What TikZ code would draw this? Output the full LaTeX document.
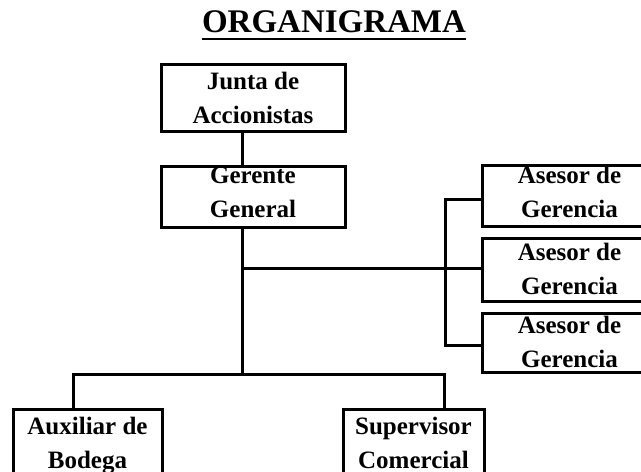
\documentclass[tikz,border=0pt]{standalone}
\usepackage{fontspec}
\setmainfont{Liberation Serif}
\newcommand\lowstrut[1]{\rule[-#1pt]{0pt}{#1pt}}
\begin{document}
\begin{tikzpicture}[x=1pt,y=-1pt,
  box/.style={draw, line width=3pt, inner sep=0pt, align=center,
    font=\bfseries\fontsize{25}{34}\selectfont},
  conn/.style={line width=3pt}]
\path[use as bounding box, clip] (0,0) rectangle (641,472);
\node[inner sep=0pt, anchor=base, font=\bfseries\fontsize{33}{38}\selectfont] (title) at (334,32) {ORGANIGRAMA};
\draw[line width=2pt] ([yshift=-6.5pt]title.base west) -- ([yshift=-6.5pt]title.base east);

\node[box, minimum width=184pt, minimum height=67pt] (junta) at (253,97.5) {Junta de\\Accionistas};
\node[box, minimum width=184pt, minimum height=61pt] (gerente) at (253,196.5) {Gerente\\General\lowstrut{8}};
\node[box, minimum width=174pt, minimum height=61pt] (ase1) at (569.5,195.5) {Asesor de\\Gerencia\lowstrut{8}};
\node[box, minimum width=174pt, minimum height=63pt] (ase2) at (569.5,269.5) {Asesor de\\Gerencia\lowstrut{2}};
\node[box, minimum width=174pt, minimum height=59pt] (ase3) at (569.5,342.5) {Asesor de\\Gerencia\lowstrut{2}};
\node[box, minimum width=149pt, minimum height=74pt] (aux) at (87.5,446) {Auxiliar de\\Bodega};
\node[box, minimum width=141pt, minimum height=68pt] (sup) at (413.5,443) {Supervisor\\Comercial};

\coordinate (spine) at (242,0);
\coordinate (busB) at (242,374);
\coordinate (auxdrop) at (73,374);
\coordinate (supdrop) at (444,374);
\coordinate (advmid) at (242,268);
\coordinate (advtop) at (445,199);
\coordinate (advbot) at (445,345);

\draw[conn] (junta.south -| spine) -- (gerente.north -| spine);
\draw[conn] (gerente.south -| spine) -- (busB);
\draw[conn] (aux.north -| auxdrop) -- (auxdrop) -- (supdrop) -- (sup.north -| supdrop);
\draw[conn] (advmid) -- (ase2.west |- advmid);
\draw[conn] (ase1.west |- advtop) -- (advtop) -- (advbot) -- (ase3.west |- advbot);
\end{tikzpicture}
\end{document}
